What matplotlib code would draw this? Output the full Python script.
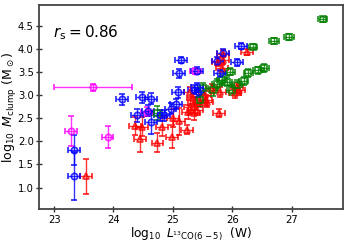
import matplotlib
matplotlib.use('Agg')
import matplotlib.pyplot as plt

# blue circles
blue_x = [23.33, 23.33, 24.14, 24.48, 24.63, 24.39, 24.58, 24.63, 24.78, 24.85, 24.96,
          25.05, 25.08, 25.11, 25.13, 25.35, 25.40, 25.42, 25.40, 25.75, 25.79, 25.85,
          26.08, 26.14]
blue_y = [1.81, 1.25, 2.91, 2.95, 2.92, 2.56, 2.66, 2.41, 2.56, 2.56, 2.71,
          2.81, 3.06, 3.47, 3.76, 3.12, 3.17, 3.06, 3.53, 3.74, 3.47, 3.92,
          3.71, 4.07]
blue_yerr = [0.33, 0.52, 0.12, 0.12, 0.12, 0.15, 0.12, 0.25, 0.12, 0.12, 0.12,
             0.1, 0.12, 0.1, 0.07, 0.1, 0.1, 0.1, 0.08, 0.08, 0.08, 0.08,
             0.07, 0.06]

# magenta circles
mag_x = [23.66, 23.28, 23.90, 24.57, 25.38]
mag_y = [3.17, 2.22, 2.09, 2.64, 3.52]
mag_xerr = [0.66, 0.1, 0.1, 0.1, 0.1]
mag_yerr = [0.08, 0.32, 0.24, 0.1, 0.07]

# green squares
green_x = [27.52, 26.95, 26.70, 26.34, 26.54, 26.43, 26.27, 26.19, 26.08, 25.99,
           25.96, 25.82, 25.74, 25.68, 25.46, 24.73, 25.51, 25.91]
green_y = [4.64, 4.26, 4.17, 4.05, 3.59, 3.54, 3.48, 3.30, 3.22, 3.11,
           3.51, 3.33, 3.25, 3.11, 2.89, 2.61, 3.15, 3.29]
green_yerr = [0.05, 0.06, 0.06, 0.06, 0.08, 0.08, 0.09, 0.09, 0.1, 0.1,
              0.08, 0.1, 0.1, 0.12, 0.12, 0.15, 0.12, 0.1]

# red triangles
red_x = [23.54, 24.36, 24.48, 24.44, 24.74, 24.81, 24.99, 25.10, 25.00, 25.23,
         25.26, 25.29, 25.35, 25.36, 25.33, 25.29, 25.40, 25.46, 25.56, 25.54,
         25.57, 25.65, 25.79, 25.78, 25.76, 25.85, 25.84, 25.82, 26.05, 26.12,
         26.25, 26.08]
red_y = [1.24, 2.33, 2.32, 2.04, 1.97, 2.32, 2.10, 2.43, 2.50, 2.25,
         2.64, 2.75, 2.61, 2.82, 2.93, 3.07, 2.68, 2.86, 2.89, 3.00,
         2.86, 3.15, 3.07, 2.61, 3.72, 3.76, 3.90, 3.58, 3.04, 3.11,
         3.94, 3.17]
red_yerr = [0.38, 0.2, 0.2, 0.28, 0.2, 0.2, 0.25, 0.3, 0.2, 0.1,
            0.15, 0.15, 0.15, 0.15, 0.12, 0.1, 0.12, 0.12, 0.12, 0.1,
            0.12, 0.1, 0.1, 0.08, 0.08, 0.08, 0.08, 0.08, 0.1, 0.1,
            0.07, 0.1]

fig = plt.figure(figsize=(3.47, 2.43), dpi=100)
ax = fig.add_axes([0.113, 0.139, 0.875, 0.840])

kw = dict(ls='none', ms=4.5, mfc='none', mew=1.3, elinewidth=1.0, capsize=2, alpha=0.8)
ax.errorbar(red_x, red_y, xerr=0.1, yerr=red_yerr, fmt='^', color='red', **kw)
ax.errorbar(green_x, green_y, xerr=0.08, yerr=green_yerr, fmt='s', color='green', **kw)
ax.errorbar(mag_x, mag_y, xerr=mag_xerr, yerr=mag_yerr, fmt='o', color='magenta', **kw)
ax.errorbar(blue_x, blue_y, xerr=0.1, yerr=blue_yerr, fmt='o', color='blue', **kw)

ax.set_xlim(22.75, 27.86)
ax.set_ylim(0.53, 4.95)
ax.set_xticks([23, 24, 25, 26, 27])
ax.set_yticks([1.0, 1.5, 2.0, 2.5, 3.0, 3.5, 4.0, 4.5])
ax.tick_params(direction='inout', length=5, width=1, labelsize=7.2, pad=1.5,
               color='#333333')
for s in ax.spines.values():
    s.set_linewidth(1.3)
    s.set_color('#444444')

ax.text(0.045, 0.84, r'$r_\mathrm{s} = 0.86$', transform=ax.transAxes, fontsize=11)
ax.set_xlabel(r'$\log_{10}\ L_{\mathrm{^{13}CO(6-5)}}$  (W)', fontsize=8.8)
ax.set_ylabel(r'$\log_{10}\ M_{\mathrm{clump}}$ (M$_\odot$)', fontsize=9)
ax.yaxis.set_label_coords(-0.068, 0.5)
ax.xaxis.set_label_coords(0.5, -0.08)

fig.savefig('out.png', dpi=100)
